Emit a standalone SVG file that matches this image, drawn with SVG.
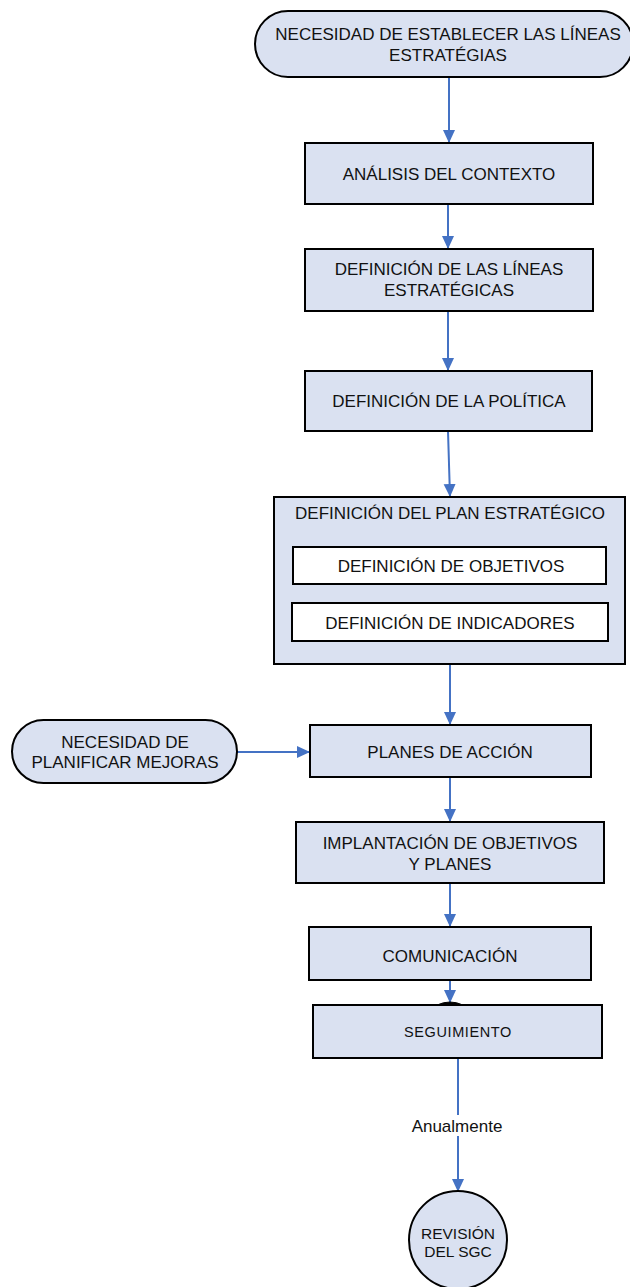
<svg xmlns="http://www.w3.org/2000/svg" width="630" height="1287" viewBox="0 0 630 1287">
<style>
.n{fill:#DAE1F1;stroke:#000;stroke-width:2}
.w{fill:#fff;stroke:#000;stroke-width:2}
.t{font-family:"Liberation Sans",Arial,sans-serif;font-size:17px;fill:#111;text-anchor:middle}
.s{font-size:14.5px;letter-spacing:0.6px}
.c{stroke:#4472C4;stroke-width:2;fill:none;marker-end:url(#ah)}
</style>
<defs>
<marker id="ah" markerUnits="userSpaceOnUse" markerWidth="14" markerHeight="14" viewBox="0 0 14 14" refX="13" refY="7" orient="auto">
<path d="M0,1 L13,7 L0,13 Z" fill="#4472C4"/>
</marker>
</defs>
<rect width="630" height="1287" fill="#fff"/>
<g id="connectors">
<line class="c" x1="449" y1="77" x2="449" y2="143"/>
<line class="c" x1="448" y1="204" x2="448" y2="249"/>
<line class="c" x1="448" y1="311" x2="448" y2="371"/>
<line class="c" x1="448" y1="431" x2="450" y2="497"/>
<line class="c" x1="450" y1="664" x2="450" y2="725"/>
<line class="c" x1="237" y1="752" x2="310" y2="752"/>
<line class="c" x1="450" y1="777" x2="450" y2="822"/>
<line class="c" x1="450" y1="883" x2="450" y2="927"/>
<line class="c" x1="450" y1="980" x2="450" y2="1003"/>
<line class="c" x1="458" y1="1058" x2="458" y2="1192"/>
<rect x="410" y="1115" width="94" height="21" fill="#fff"/>
<text class="t" x="457" y="1132">Anualmente</text>
</g>
<g id="n1"><rect class="n" x="255" y="11" width="378" height="66" rx="33"/>
<text class="t" x="448" y="40">NECESIDAD DE ESTABLECER LAS LÍNEAS</text>
<text class="t" x="448" y="61">ESTRATÉGIAS</text></g>
<g id="n2"><rect class="n" x="305" y="143" width="288" height="61"/>
<text class="t" x="449" y="180">ANÁLISIS DEL CONTEXTO</text></g>
<g id="n3"><rect class="n" x="305" y="249" width="288" height="62"/>
<text class="t" x="449" y="275">DEFINICIÓN DE LAS LÍNEAS</text>
<text class="t" x="449" y="296">ESTRATÉGICAS</text></g>
<g id="n4"><rect class="n" x="305" y="371" width="287" height="60"/>
<text class="t" x="449" y="407">DEFINICIÓN DE LA POLÍTICA</text></g>
<g id="n5"><rect class="n" x="274" y="497" width="351" height="167"/>
<text class="t" x="450" y="519">DEFINICIÓN DEL PLAN ESTRATÉGICO</text>
<g id="n5a"><rect class="w" x="293" y="547" width="313" height="37"/>
<text class="t" x="451" y="572">DEFINICIÓN DE OBJETIVOS</text></g>
<g id="n5b"><rect class="w" x="292" y="603" width="316" height="38"/>
<text class="t" x="450" y="629">DEFINICIÓN DE INDICADORES</text></g></g>
<g id="n6"><rect class="n" x="12" y="720" width="225" height="63" rx="31.5"/>
<text class="t" x="125" y="748">NECESIDAD DE</text>
<text class="t" x="125" y="768">PLANIFICAR MEJORAS</text></g>
<g id="n7"><rect class="n" x="310" y="725" width="281" height="52"/>
<text class="t" x="450" y="758">PLANES DE ACCIÓN</text></g>
<g id="n8"><rect class="n" x="296" y="822" width="308" height="61"/>
<text class="t" x="450" y="849">IMPLANTACIÓN DE OBJETIVOS</text>
<text class="t" x="450" y="870">Y PLANES</text></g>
<g id="n9"><rect class="n" x="309" y="927" width="282" height="53"/>
<text class="t" x="450" y="962">COMUNICACIÓN</text></g>
<g id="n10"><rect class="n" x="313" y="1005" width="289" height="53"/>
<path d="M437,1005 Q450,999 463,1005 Z" fill="#000" stroke="#000" stroke-width="1"/>
<text class="t s" x="458" y="1037">SEGUIMIENTO</text></g>
<g id="n11"><circle class="n" cx="458" cy="1240" r="49"/>
<text class="t" style="font-size:15.5px" x="458" y="1239">REVISIÓN</text>
<text class="t" style="font-size:15.5px" x="458" y="1257">DEL SGC</text></g>
</svg>
